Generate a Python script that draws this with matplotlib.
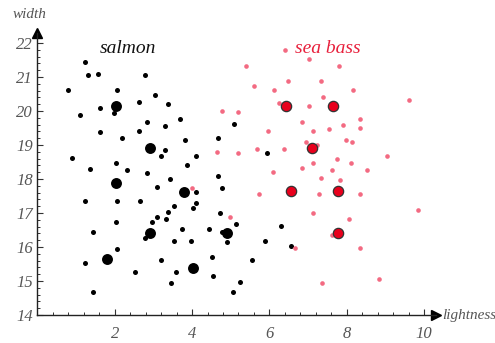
import numpy as np
import matplotlib
matplotlib.use("Agg")
import matplotlib.pyplot as plt
from matplotlib.ticker import MultipleLocator

# salmon (black) - small dots
salmon_x = [1.24, 1.31, 1.57, 2.79, 0.79, 2.06, 3.04, 2.62, 3.37, 1.61,
            1.98, 1.11, 3.68, 2.83, 3.29, 2.62, 1.61, 2.20, 3.30, 3.20,
            0.90, 1.37, 2.03, 2.31, 2.83, 3.42, 3.09, 4.10, 1.24, 2.07,
            2.66, 3.54, 4.10, 4.03, 3.37, 3.09, 3.33, 2.03, 2.96, 1.45,
            2.79, 3.54, 3.75, 2.07, 1.24, 3.20, 2.53, 3.59, 3.45, 1.44,
            4.68, 4.77, 4.72, 5.13, 4.43, 4.77, 4.89, 3.96, 5.88, 6.29,
            6.57, 4.52, 5.55, 4.55, 5.23, 5.06, 5.09, 3.82, 4.68, 4.10,
            3.88, 5.94]
salmon_y = [21.45, 21.05, 21.10, 21.06, 20.63, 20.63, 20.47, 20.26, 20.21, 20.10,
            19.94, 19.89, 19.77, 19.68, 19.56, 19.42, 19.37, 19.21, 18.84, 18.68,
            18.63, 18.30, 18.46, 18.26, 18.19, 17.99, 17.77, 17.63, 17.35, 17.35,
            17.35, 17.20, 17.29, 17.14, 17.03, 16.88, 16.81, 16.73, 16.73, 16.45,
            16.26, 16.19, 16.52, 15.93, 15.52, 15.62, 15.26, 15.26, 14.93, 14.67,
            18.10, 17.73, 16.99, 16.67, 16.52, 16.45, 16.16, 16.19, 16.19, 16.62,
            16.03, 15.71, 15.62, 15.14, 14.98, 14.67, 19.62, 19.15, 19.20, 18.67,
            18.41, 18.77]

# salmon - large dots
salmon_big_x = [2.03, 2.90, 2.03, 3.79, 2.91, 1.80, 4.02, 4.89]
salmon_big_y = [20.16, 18.90, 17.89, 17.63, 16.40, 15.64, 15.39, 16.40]

# sea bass (red) - small dots
bass_x = [6.40, 7.03, 5.39, 7.80, 6.48, 7.32, 5.60, 6.12, 8.17, 7.38,
          6.24, 7.03, 9.61, 4.77, 5.19, 6.83, 8.34, 5.95, 7.12, 7.55,
          7.89, 8.34, 6.94, 7.24, 7.97, 8.14, 4.64, 5.19, 5.67, 6.38,
          9.03, 6.83, 7.12, 7.75, 8.12, 6.08, 7.62, 8.51, 7.32, 7.83,
          3.99, 5.74, 7.27, 8.34, 4.97, 7.12, 8.05, 9.85, 7.61, 6.66,
          8.34, 8.84, 7.35]
bass_y = [21.79, 21.52, 21.32, 21.32, 20.88, 20.88, 20.73, 20.61, 20.62, 20.41,
          20.23, 20.15, 20.31, 19.99, 19.98, 19.68, 19.77, 19.41, 19.41, 19.47,
          19.58, 19.51, 19.10, 18.99, 19.15, 19.10, 18.78, 18.77, 18.89, 18.89,
          18.68, 18.31, 18.46, 18.58, 18.46, 18.20, 18.26, 18.26, 18.04, 17.96,
          17.73, 17.56, 17.56, 17.56, 16.89, 16.99, 16.82, 17.09, 16.35, 15.97,
          15.98, 15.06, 14.93]

# sea bass - large dots
bass_big_x = [6.43, 7.65, 7.11, 6.55, 7.76, 7.76]
bass_big_y = [20.16, 20.15, 18.90, 17.65, 17.65, 16.40]

serif = "Liberation Serif"
tick_col = "#555555"

fig = plt.figure(figsize=(4.95, 3.43), dpi=100)
ax = fig.add_axes([0.0754, 0.0816, 0.805, 0.8227])

ax.scatter(salmon_x, salmon_y, s=13, c="black", linewidths=0, zorder=3)
ax.scatter(salmon_big_x, salmon_big_y, s=62, c="black", linewidths=0, zorder=3)
ax.scatter(bass_x, bass_y, s=11, c="#f36a82", linewidths=0, zorder=3)
ax.scatter(bass_big_x, bass_big_y, s=55, c="#e8001c", edgecolors="#333333",
           linewidths=0.9, zorder=4)

ax.set_xlim(0, 10.3)
ax.set_ylim(14, 22.3)

for s in ["top", "right"]:
    ax.spines[s].set_visible(False)
for s in ["left", "bottom"]:
    ax.spines[s].set_linewidth(1.0)
    ax.spines[s].set_color("#222222")

ax.plot(1, 0, ">", color="black", markersize=7, transform=ax.transAxes, clip_on=False)
ax.plot(0, 1, "^", color="black", markersize=7, transform=ax.transAxes, clip_on=False)

ax.xaxis.set_major_locator(MultipleLocator(2))
ax.xaxis.set_minor_locator(MultipleLocator(0.4))
ax.yaxis.set_major_locator(MultipleLocator(1))
ax.yaxis.set_minor_locator(MultipleLocator(0.2))
ax.set_xticks([2, 4, 6, 8, 10])
ax.tick_params(which="major", direction="in", length=4, width=0.8, colors="#333333",
               labelcolor=tick_col, labelsize=12, pad=8)
ax.tick_params(which="minor", direction="in", length=2.5, width=0.7, colors="#333333")
ax.tick_params(axis="y", which="major", pad=3)
for lab in ax.get_xticklabels() + ax.get_yticklabels():
    lab.set_fontfamily(serif)
    lab.set_fontstyle("italic")

ax.text(2.35, 21.85, "salmon", fontsize=14, fontstyle="italic", family=serif,
        color="#111111", ha="center", va="center")
ax.text(7.5, 21.85, "sea bass", fontsize=14, fontstyle="italic", family=serif,
        color="#e8203c", ha="center", va="center")

fig.text(0.026, 0.957, "width", fontsize=11, fontstyle="italic", family=serif,
         color=tick_col, ha="left", va="center")
fig.text(0.893, 0.0816, "lightness", fontsize=11, fontstyle="italic", family=serif,
         color=tick_col, ha="left", va="center")

fig.savefig("out.png", dpi=100)
